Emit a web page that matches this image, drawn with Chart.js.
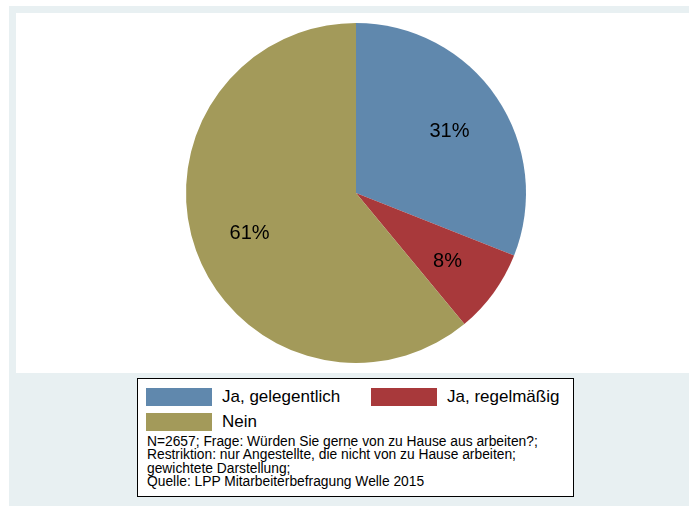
<!DOCTYPE html>
<html lang="de">
<head>
    <meta charset="UTF-8">
    <title>Von zu Hause arbeiten</title>
    <script src="https://cdn.jsdelivr.net/npm/chart.js@4.4.0/dist/chart.umd.min.js"></script>
    <style>
        body {
            margin: 0;
            width: 689px;
            height: 506px;
            background: #ffffff;
            font-family: "Liberation Sans", Arial, sans-serif;
            position: relative;
            overflow: hidden;
        }
        .panel {
            position: absolute;
            left: 9px;
            top: 6px;
            width: 680px;
            height: 500px;
            background: #e8f0f2;
        }
        .plot-bg {
            position: absolute;
            left: 16px;
            top: 13px;
            width: 673px;
            height: 360px;
            background: #ffffff;
        }
        #chartWrap {
            position: absolute;
            left: 0;
            top: 0;
            width: 689px;
            height: 506px;
        }
        .legend-box {
            position: absolute;
            left: 137px;
            top: 378px;
            width: 435px;
            height: 117px;
            border: 1px solid #000;
            background: #fff;
            box-sizing: content-box;
        }
        .item {
            position: absolute;
            font-size: 17px;
            line-height: 18px;
            color: #000;
            white-space: nowrap;
        }
        .swatch {
            position: absolute;
            width: 66px;
            height: 18px;
        }
        .note {
            position: absolute;
            left: 9px;
            top: 56px;
            font-size: 13.8px;
            line-height: 13.3px;
            color: #000;
            white-space: nowrap;
        }
    </style>
</head>
<body>
    <div class="panel"></div>
    <div class="plot-bg"></div>
    <div id="chartWrap"><canvas id="pieChart" width="689" height="506"></canvas></div>
    <div class="legend-box" id="legend"></div>

    <script>
        const categories = ['Ja, gelegentlich', 'Ja, regelmäßig', 'Nein'];
        const shares = [31, 8, 61];
        const colors = ['#6088ad', '#a8393b', '#a39a5a'];
        const noteLines = [
            'N=2657; Frage: Würden Sie gerne von zu Hause aus arbeiten?;',
            'Restriktion: nur Angestellte, die nicht von zu Hause arbeiten;',
            'gewichtete Darstellung;',
            'Quelle: LPP Mitarbeiterbefragung Welle 2015'
        ];

        // percent labels inside the slices
        const sliceLabels = {
            id: 'sliceLabels',
            afterDatasetsDraw(chart) {
                const ctx = chart.ctx;
                const meta = chart.getDatasetMeta(0);
                ctx.save();
                ctx.font = '20px "Liberation Sans", Arial, sans-serif';
                ctx.fillStyle = '#000';
                ctx.textAlign = 'center';
                ctx.textBaseline = 'middle';
                meta.data.forEach((arc, i) => {
                    const p = arc.getProps(['x', 'y', 'startAngle', 'endAngle', 'outerRadius'], true);
                    const mid = (p.startAngle + p.endAngle) / 2;
                    const r = p.outerRadius * 0.665;
                    ctx.fillText(shares[i] + '%', p.x + Math.cos(mid) * r, p.y + Math.sin(mid) * r + 2);
                });
                ctx.restore();
            }
        };

        const chart = new Chart(document.getElementById('pieChart'), {
            type: 'pie',
            data: {
                labels: categories,
                datasets: [{
                    data: shares,
                    backgroundColor: colors,
                    borderWidth: 0
                }]
            },
            options: {
                responsive: false,
                animation: false,
                layout: {
                    padding: { left: 186, right: 163, top: 23, bottom: 143 }
                },
                plugins: {
                    legend: { display: false },
                    tooltip: { enabled: false }
                }
            },
            plugins: [sliceLabels]
        });

        // legend box built from the same arrays
        const legend = document.getElementById('legend');
        const slots = [
            { sx: 8, tx: 84, y: 9 },
            { sx: 233, tx: 309, y: 9 },
            { sx: 8, tx: 84, y: 34 }
        ];
        categories.forEach((name, i) => {
            const s = slots[i];
            const sw = document.createElement('div');
            sw.className = 'swatch';
            sw.style.left = s.sx + 'px';
            sw.style.top = s.y + 'px';
            sw.style.background = colors[i];
            legend.appendChild(sw);
            const t = document.createElement('div');
            t.className = 'item';
            t.style.left = s.tx + 'px';
            t.style.top = s.y + 'px';
            t.textContent = name;
            legend.appendChild(t);
        });
        const note = document.createElement('div');
        note.className = 'note';
        note.innerHTML = noteLines.join('<br>');
        legend.appendChild(note);
    </script>
</body>
</html>
